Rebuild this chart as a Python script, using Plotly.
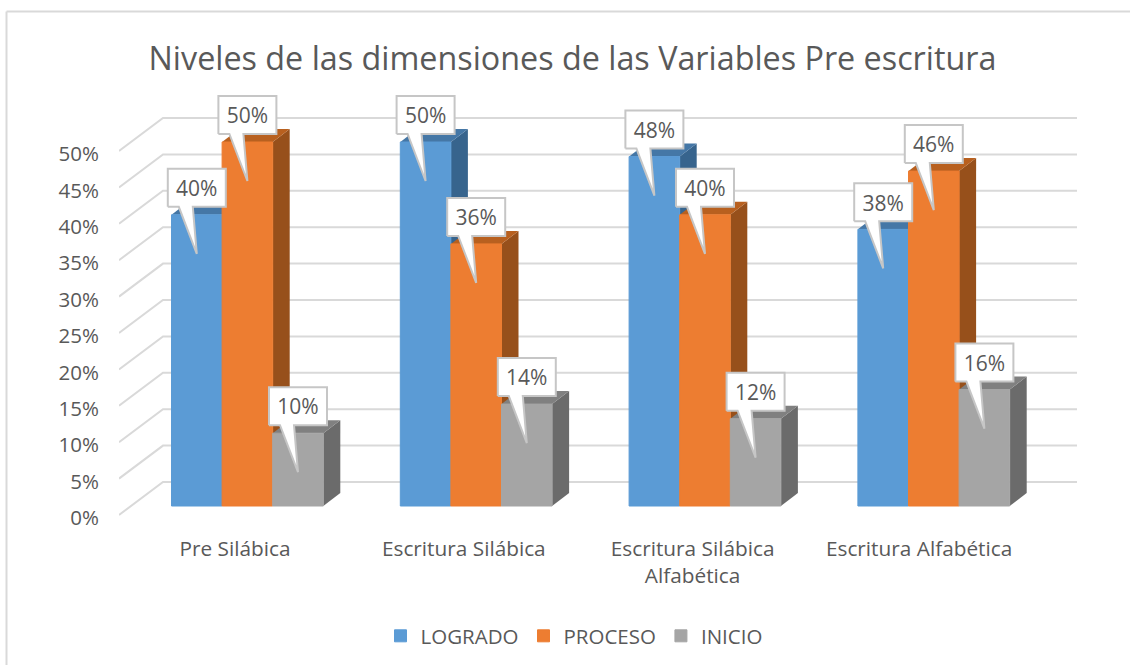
import plotly.graph_objects as go

CATEGORIES = ["Pre Silábica", "Escritura Silábica", "Escritura Silábica<br>Alfabética", "Escritura Alfabética"]
SERIES = ["LOGRADO", "PROCESO", "INICIO"]
LOGRADO = [40, 50, 48, 38]
PROCESO = [50, 36, 40, 46]
INICIO = [10, 14, 12, 16]
TICKS_Y = [0, 5, 10, 15, 20, 25, 30, 35, 40, 45, 50]
TICK_POS = [0, 1, 2, 2.99]
TITLE = "Niveles de las dimensiones de las Variables Pre escritura"

FRONT = ["#5B9BD5", "#ED7D31", "#A5A5A5"]
TOP = ["#4577A6", "#B8601F", "#808080"]
SIDE = ["#37648D", "#97501B", "#6B6B6B"]
GRID = "#D9D9D9"
TEXT = "#595959"
FONT = "Open Sans"
W, H = 1130, 665

# pixel geometry of the pseudo-3D frame
PLOT_L, PLOT_R, PLOT_T, PLOT_B = 119, 1077, 80, 534
PX_PER_PCT = 7.28
PX_PER_CAT = 228.8
CAT0_PX = 235
ZERO_LABEL, ZERO_FLOOR, ZERO_BAR, ZERO_WALL = 518, 515, 506, 482
BAR_W = 50.6
GROUP_L = 171.5
DX, DY = 17, 13

def ux(dpx):
    return dpx / PX_PER_CAT

def uy(dpx):
    return dpx / PX_PER_PCT

def yrange(zero):
    return [(zero - PLOT_B) / PX_PER_PCT, (zero - PLOT_T) / PX_PER_PCT]

xr = [(PLOT_L - CAT0_PX) / PX_PER_CAT, (PLOT_R - CAT0_PX) / PX_PER_CAT]
values = [LOGRADO, PROCESO, INICIO]
fig = go.Figure()

# back wall grid with slanted floor/side lines, drawn on the tick axis
gx, gy = [], []
wall_shift = uy(ZERO_LABEL - ZERO_WALL)
floor_shift = uy(ZERO_LABEL - ZERO_FLOOR)
for t in TICKS_Y:
    gx += [xr[0], ux(163 - CAT0_PX), xr[1], None]
    gy += [t + floor_shift, t + wall_shift, t + wall_shift, None]
fig.add_trace(go.Scatter(x=gx, y=gy, mode="lines", line=dict(color=GRID, width=2),
                         showlegend=False, hoverinfo="skip", yaxis="y", xaxis="x"))

# top and side faces, series by series (bar-plane axis y2)
left_offset = [ux(GROUP_L - CAT0_PX + BAR_W * s) for s in range(3)]
for s, vals in enumerate(values):
    for i, v in enumerate(vals):
        xl = i + left_offset[s]
        xh = xl + ux(BAR_W)
        d, e = ux(DX), uy(DY)
        fig.add_trace(go.Scatter(x=[xh, xh, xh + d, xh + d, xh], y=[0, v, v + e, e, 0], mode="lines",
                                 fill="toself", fillcolor=SIDE[s], line=dict(width=0, color=SIDE[s]),
                                 showlegend=False, hoverinfo="skip", xaxis="x", yaxis="y2"))
        fig.add_trace(go.Scatter(x=[xl, xh, xh + d, xl + d, xl], y=[v, v, v + e, v + e, v], mode="lines",
                                 fill="toself", fillcolor=TOP[s], line=dict(width=0, color=TOP[s]),
                                 showlegend=False, hoverinfo="skip", xaxis="x", yaxis="y2"))

# front faces, on an overlay so they cover the side faces
for s, vals in enumerate(values):
    fig.add_trace(go.Bar(x=list(range(4)), y=vals, name=SERIES[s], width=ux(BAR_W),
                         offset=left_offset[s], marker=dict(color=FRONT[s], line=dict(width=1, color=FRONT[s])),
                         xaxis="x", yaxis="y3"))

# callouts
BOX_W, BOX_B, BOX_T, TIP, TEXT_DROP = 58, 8, 46, 39, 3
for s, vals in enumerate(values):
    for i, v in enumerate(vals):
        cx = i + left_offset[s] + ux(BAR_W / 2)
        hw = ux(BOX_W / 2)
        yb, yt = v + uy(BOX_B), v + uy(BOX_T)
        fig.add_trace(go.Scatter(
            x=[cx - hw, cx - ux(18), cx, cx - ux(4), cx + hw, cx + hw, cx - hw, cx - hw],
            y=[yb, yb, v - uy(TIP), yb, yb, yt, yt, yb],
            mode="lines", fill="toself", fillcolor="white", line=dict(color="#C6C6C6", width=2),
            showlegend=False, hoverinfo="skip", xaxis="x", yaxis="y4"))
        fig.add_trace(go.Scatter(x=[cx], y=[(yb + yt) / 2 - uy(TEXT_DROP)], mode="text", text=[f"{v}%"],
                                 textposition="middle center",
                                 textfont=dict(family=FONT, size=21, color=TEXT),
                                 showlegend=False, hoverinfo="skip", xaxis="x", yaxis="y4"))

dom_y = [(H - PLOT_B) / H, (H - PLOT_T) / H]
hidden = dict(domain=dom_y, overlaying="y", visible=False, showgrid=False, zeroline=False, fixedrange=True)
fig.update_layout(
    width=W, height=H, autosize=False, margin=dict(l=0, r=0, t=0, b=0),
    paper_bgcolor="white", plot_bgcolor="rgba(0,0,0,0)",
    barmode="overlay",
    font=dict(family=FONT, color=TEXT, size=20.8),
    title=dict(text=TITLE, x=572.5 / W, xanchor="center", y=1 - 59 / H, yanchor="middle",
               xref="paper", yref="paper", font=dict(family=FONT, size=32.3, color=TEXT)),
    xaxis=dict(domain=[PLOT_L / W, PLOT_R / W], range=xr, tickmode="array", tickvals=TICK_POS,
               ticktext=CATEGORIES, showgrid=False, zeroline=False, showline=False,
               ticks="", tickangle=0,
               tickfont=dict(family=FONT, size=20.8, color=TEXT), fixedrange=True),
    yaxis=dict(domain=dom_y, range=yrange(ZERO_LABEL), tickmode="array", tickvals=TICKS_Y,
               ticktext=[f"{t}%" for t in TICKS_Y], showgrid=False, zeroline=False, showline=False,
               ticks="outside", ticklen=15, tickcolor="rgba(0,0,0,0)",
               tickfont=dict(family=FONT, size=20.5, color=TEXT), fixedrange=True),
    yaxis2=dict(range=yrange(ZERO_BAR), **hidden),
    yaxis3=dict(range=yrange(ZERO_BAR), **hidden),
    yaxis4=dict(range=yrange(ZERO_BAR), **hidden),
    legend=dict(orientation="h", x=574 / W, xanchor="center", y=1 - 636 / H, yanchor="middle",
                font=dict(family=FONT, size=20.5, color=TEXT), bgcolor="rgba(0,0,0,0)"),
    shapes=[
        dict(type="line", xref="paper", yref="paper", x0=6.5 / W, x1=1, y0=1 - 11.5 / H, y1=1 - 11.5 / H,
             line=dict(color=GRID, width=2), layer="below"),
        dict(type="line", xref="paper", yref="paper", x0=6.5 / W, x1=6.5 / W, y0=0, y1=1 - 11.5 / H,
             line=dict(color=GRID, width=2), layer="below"),
    ],
)
for tr in fig.data:
    if tr.type == "scatter":
        tr.cliponaxis = False
fig.write_html("out.html", config=dict(displayModeBar=False),
               post_script="document.body.style.margin='0';document.body.style.overflow='hidden';")
